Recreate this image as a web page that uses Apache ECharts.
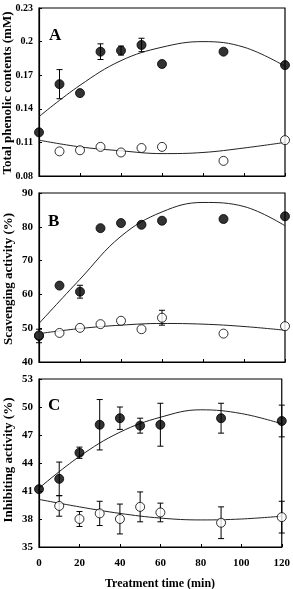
<!DOCTYPE html>
<html>
<head>
<meta charset="utf-8">
<script src="https://cdn.jsdelivr.net/npm/echarts@6/dist/echarts.min.js"></script>
<style>
  html, body { margin: 0; padding: 0; background: #fff; }
  #main { width: 293px; height: 589px; }
</style>
</head>
<body>
<div id="main"></div>
<script>
// treatment time (min)
const times = [0, 10, 20, 30, 40, 50, 60, 90, 120];
const curveTimes = [0, 20, 40, 60, 80, 100, 120];
const xTicks = ['0', '20', '40', '60', '80', '100', '120'];

// A - total phenolic contents (mM)
const phenolFilled = [0.119, 0.162, 0.154, 0.191, 0.192, 0.197, 0.180, 0.191, 0.179];
const phenolFilledErr = [0, 0.013, 0, 0.007, 0.004, 0.006, 0, 0, 0];
const phenolOpen = [null, 0.102, 0.103, 0.106, 0.101, 0.105, 0.106, 0.0935, 0.112];
const phenolFitFilled = [0.133, 0.161, 0.183, 0.195, 0.200, 0.195, 0.178];
const phenolFitOpen = [0.112, 0.106, 0.1025, 0.100, 0.101, 0.105, 0.110];

// B - scavenging activity (%)
const scavFilled = [47.7, 62.6, 60.8, 79.6, 81.1, 80.6, 81.8, 82.3, 83.1];
const scavFilledErr = [2, 0, 1.9, 0, 0, 0, 0, 0, 0];
const scavOpen = [47.9, 48.6, 50.1, 51.2, 52.2, 49.7, 53.1, 48.4, 50.6];
const scavOpenErr = [0, 0, 0, 0, 0, 0, 2.2, 0, 0];
const scavFitFilled = [51.4, 64.5, 77.2, 84.4, 87.2, 86.0, 80.3];
const scavFitOpen = [48.4, 49.9, 50.9, 51.4, 51.2, 50.5, 49.4];

// C - inhibiting activity (%)
const inhibFilled = [41.2, 42.3, 45.1, 48.1, 48.8, 48.0, 48.1, 48.8, 48.5];
const inhibFilledErr = [0, 1.8, 0.6, 2.7, 1.2, 0.8, 2.3, 1.6, 1.7];
const inhibOpen = [null, 39.4, 38.0, 38.6, 38.0, 39.3, 38.7, 37.6, 38.2];
const inhibOpenErr = [0, 1.1, 0.8, 1.3, 1.6, 1.6, 1.0, 1.7, 1.7];
const inhibFitFilled = [41.3, 44.7, 47.3, 48.9, 49.7, 49.3, 48.2];
const inhibFitOpen = [40.1, 39.3, 38.6, 38.1, 37.9, 38.0, 38.3];

const FONT = 'Liberation Serif';
const chart = echarts.init(document.getElementById('main'), null, { renderer: 'canvas' });

const grids = [
  { left: 39, top: 8, width: 246, height: 168 },
  { left: 39, top: 193, width: 246, height: 169 },
  { left: 39, top: 379, width: 246, height: 168 }
];

function pairs(xs, ys) {
  const out = [];
  for (let i = 0; i < xs.length; i++) {
    if (ys[i] != null) out.push([xs[i], ys[i]]);
  }
  return out;
}

function errData(ys, errs) {
  const out = [];
  for (let i = 0; i < times.length; i++) {
    if (ys[i] != null && errs[i] > 0) out.push([times[i], ys[i] - errs[i], ys[i] + errs[i]]);
  }
  return out;
}

function errSeries(idx, ys, errs) {
  return {
    type: 'custom',
    xAxisIndex: idx,
    yAxisIndex: idx,
    z: 2,
    renderItem: function (params, api) {
      const lo = api.coord([api.value(0), api.value(1)]);
      const hi = api.coord([api.value(0), api.value(2)]);
      const cap = 3;
      const style = { stroke: '#000', lineWidth: 1 };
      return {
        type: 'group',
        children: [
          { type: 'line', shape: { x1: lo[0], y1: lo[1], x2: hi[0], y2: hi[1] }, style: style },
          { type: 'line', shape: { x1: lo[0] - cap, y1: lo[1], x2: lo[0] + cap, y2: lo[1] }, style: style },
          { type: 'line', shape: { x1: hi[0] - cap, y1: hi[1], x2: hi[0] + cap, y2: hi[1] }, style: style }
        ]
      };
    },
    encode: { x: 0, y: [1, 2] },
    data: errData(ys, errs)
  };
}

function fitSeries(idx, ys) {
  return {
    type: 'line',
    xAxisIndex: idx,
    yAxisIndex: idx,
    smooth: 0.4,
    symbol: 'none',
    z: 1,
    lineStyle: { color: '#222', width: 1 },
    data: pairs(curveTimes, ys)
  };
}

function dotSeries(idx, ys, filled) {
  return {
    type: 'scatter',
    xAxisIndex: idx,
    yAxisIndex: idx,
    symbol: 'circle',
    symbolSize: 9,
    z: 3,
    itemStyle: {
      color: filled ? '#000' : '#fff',
      borderColor: '#000',
      borderWidth: 1
    },
    data: pairs(times, ys)
  };
}

function xAxisFor(idx, showLabels) {
  return {
    type: 'value',
    gridIndex: idx,
    min: 0,
    max: 120,
    interval: 20,
    axisLine: { show: true, lineStyle: { color: '#000', width: 1.2 } },
    axisTick: { show: true, inside: true, length: 3, lineStyle: { color: '#000' } },
    splitLine: { show: false },
    axisLabel: {
      show: showLabels,
      fontFamily: FONT,
      fontWeight: 'bold',
      fontSize: 11,
      color: '#000',
      margin: 11,
      formatter: function (v) { return xTicks[v / 20]; }
    }
  };
}

function yAxisFor(idx, min, max, interval, fs, fmt) {
  return {
    type: 'value',
    gridIndex: idx,
    min: min,
    max: max,
    interval: interval,
    axisLine: { show: true, lineStyle: { color: '#000', width: 1.2 } },
    axisTick: { show: true, inside: true, length: 3, lineStyle: { color: '#000' } },
    splitLine: { show: false },
    axisLabel: {
      fontFamily: FONT,
      fontWeight: 'bold',
      fontSize: fs,
      color: '#000',
      margin: 6,
      formatter: fmt
    }
  };
}

function gridStyle(g) {
  return Object.assign({ show: true, borderColor: '#000', borderWidth: 1.2, backgroundColor: 'transparent' }, g);
}

function vText(text, x, y) {
  return {
    type: 'text',
    x: x,
    y: y,
    rotation: Math.PI / 2,
    style: {
      text: text,
      fontFamily: FONT,
      fontWeight: 'bold',
      fontSize: 13,
      fill: '#000',
      textAlign: 'center',
      textVerticalAlign: 'middle'
    }
  };
}

function letter(text, x, y) {
  return {
    type: 'text',
    x: x,
    y: y,
    style: {
      text: text,
      fontFamily: FONT,
      fontWeight: 'bold',
      fontSize: 17,
      fill: '#000',
      textAlign: 'left',
      textVerticalAlign: 'middle'
    }
  };
}

const option = {
  backgroundColor: '#fff',
  animation: false,
  grid: grids.map(gridStyle),
  xAxis: [xAxisFor(0, false), xAxisFor(1, false), xAxisFor(2, true)],
  yAxis: [
    yAxisFor(0, 0.08, 0.23, 0.03, 10, function (v) {
      const s = v.toFixed(2);
      return s === '0.20' ? '0.2' : s;
    }),
    yAxisFor(1, 40, 90, 10, 11),
    yAxisFor(2, 35, 53, 3, 11)
  ],
  graphic: [
    vText('Total phenolic contents (mM)', 8, 93),
    vText('Scavenging activity (%)', 9, 279),
    vText('Inhibiting activity (%)', 9, 460),
    letter('A', 49, 36),
    letter('B', 48, 222),
    letter('C', 48, 406),
    {
      type: 'text',
      x: 160,
      y: 584,
      style: {
        text: 'Treatment time (min)',
        fontFamily: FONT,
        fontWeight: 'bold',
        fontSize: 12,
        fill: '#000',
        textAlign: 'center',
        textVerticalAlign: 'middle'
      }
    }
  ],
  series: [
    fitSeries(0, phenolFitFilled),
    fitSeries(0, phenolFitOpen),
    errSeries(0, phenolFilled, phenolFilledErr),
    dotSeries(0, phenolFilled, true),
    dotSeries(0, phenolOpen, false),

    fitSeries(1, scavFitFilled),
    fitSeries(1, scavFitOpen),
    errSeries(1, scavFilled, scavFilledErr),
    errSeries(1, scavOpen, scavOpenErr),
    dotSeries(1, scavOpen, false),
    dotSeries(1, scavFilled, true),

    fitSeries(2, inhibFitFilled),
    fitSeries(2, inhibFitOpen),
    errSeries(2, inhibFilled, inhibFilledErr),
    errSeries(2, inhibOpen, inhibOpenErr),
    dotSeries(2, inhibFilled, true),
    dotSeries(2, inhibOpen, false)
  ]
};

chart.setOption(option);
</script>
</body>
</html>
